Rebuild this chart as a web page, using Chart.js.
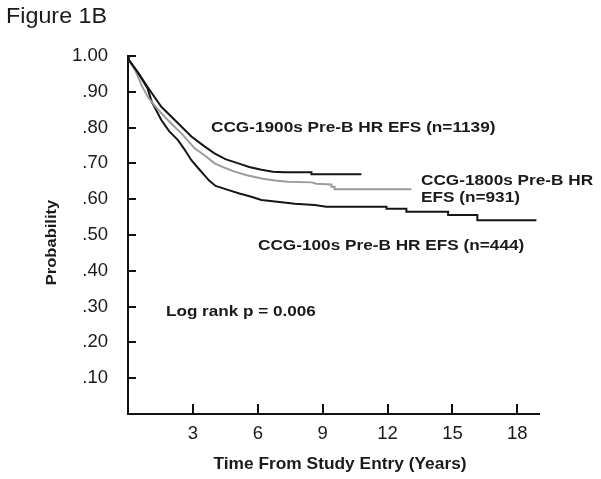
<!DOCTYPE html>
<html>
<head>
<meta charset="utf-8">
<script src="https://cdn.jsdelivr.net/npm/chart.js@4.4.1/dist/chart.umd.min.js"></script>
<style>
html,body{margin:0;padding:0;background:#fff;}
</style>
</head>
<body>
<canvas id="c" width="601" height="479"></canvas>
<script>
// ---- data ----
const seriesNames = ['CCG-1900s Pre-B HR EFS (n=1139)', 'CCG-1800s Pre-B HR EFS (n=931)', 'CCG-100s Pre-B HR EFS (n=444)'];
const years1900 = [0, 0.03, 0.5, 1.0, 1.54, 2.16, 2.93, 3.55, 4.0, 4.5, 5.1, 5.6, 6.17, 6.7, 7.24, 8.48, 8.48, 10.79];
const efs1900   = [1.0, 0.99, 0.95, 0.905, 0.858, 0.821, 0.775, 0.747, 0.728, 0.712, 0.70, 0.69, 0.682, 0.677, 0.675, 0.675, 0.670, 0.670];
const years1800 = [0, 0.03, 0.35, 0.65, 0.95, 1.31, 1.70, 2.1, 2.47, 3.08, 3.55, 4.0, 4.5, 4.93, 5.5, 6.17, 6.8, 7.4, 8.5, 8.7, 9.4, 9.4, 9.55, 9.55, 13.1];
const efs1800   = [1.0, 0.99, 0.958, 0.915, 0.883, 0.856, 0.830, 0.805, 0.784, 0.742, 0.722, 0.700, 0.687, 0.677, 0.667, 0.658, 0.652, 0.649, 0.647, 0.643, 0.641, 0.635, 0.635, 0.628, 0.628];
const years100  = [0, 0.03, 0.5, 0.9, 1.1, 1.54, 1.9, 2.31, 2.6, 2.93, 3.3, 3.55, 3.75, 4.05, 4.62, 5.15, 5.7, 6.17, 7.0, 7.71, 8.63, 8.86, 9.17, 11.95, 11.95, 12.87, 12.87, 14.8, 14.8, 16.15, 16.15, 18.88];
const efs100    = [1.0, 0.99, 0.95, 0.91, 0.872, 0.821, 0.79, 0.765, 0.74, 0.709, 0.683, 0.666, 0.652, 0.637, 0.626, 0.616, 0.607, 0.598, 0.592, 0.587, 0.584, 0.582, 0.579, 0.579, 0.573, 0.573, 0.565, 0.565, 0.556, 0.556, 0.541, 0.541];
const xTickValues = [0, 3, 6, 9, 12, 15, 18];
const xTickLabels = ['', '3', '6', '9', '12', '15', '18'];
const yTickValues = [0, 0.1, 0.2, 0.3, 0.4, 0.5, 0.6, 0.7, 0.8, 0.9, 1.0];
const yTickLabels = ['', '.10', '.20', '.30', '.40', '.50', '.60', '.70', '.80', '.90', '1.00'];

function pts(xs, ys){ return xs.map((x,i)=>({x:x, y:ys[i]})); }

// inward tick-mark glyphs (drawn by the library as point styles at the tick values)
function glyph(w, h, rx, ry, rw, rh){
  const c = document.createElement('canvas'); c.width = w; c.height = h;
  const g = c.getContext('2d'); g.fillStyle = '#111'; g.fillRect(rx, ry, rw, rh);
  return c;
}
const yTickGlyph = glyph(16, 2, 8, 0, 8, 2);   // extends right from the y axis
const xTickGlyph = glyph(2, 20, 0, 0, 2, 10);  // extends up from the x axis

// ---- text placement (canvas px) ----
const texts = [
  {t:'Figure 1B', x:6, y:22.5, font:'22px "Liberation Sans"', sx:1.06},
  {t:'CCG-1900s Pre-B HR EFS (n=1139)', x:211, y:132, font:'bold 15.5px "Liberation Sans"', sx:1.11},
  {t:'CCG-1800s Pre-B HR', x:421, y:184.5, font:'bold 15.5px "Liberation Sans"', sx:1.11},
  {t:'EFS (n=931)', x:421, y:201.5, font:'bold 15.5px "Liberation Sans"', sx:1.11},
  {t:'CCG-100s Pre-B HR EFS (n=444)', x:258, y:250, font:'bold 15.5px "Liberation Sans"', sx:1.11},
  {t:'Log rank p = 0.006', x:166, y:315.5, font:'bold 15px "Liberation Sans"', sx:1.14}
];

const decor = {
  id:'decor',
  afterDraw(chart){
    const ctx = chart.ctx, xs = chart.scales.x, ys = chart.scales.y, a = chart.chartArea;
    ctx.save();
    ctx.fillStyle = '#111';
    yTickValues.forEach(v=>{
      if (v <= 0) return;
      const py = Math.round(ys.getPixelForValue(v));
      ctx.fillRect(a.left, py-1, 8, 2);
    });
    xTickValues.forEach(v=>{
      if (v <= 0) return;
      const px = Math.round(xs.getPixelForValue(v));
      ctx.fillRect(px-1, a.bottom-10, 2, 10);
    });
    ctx.fillStyle = '#1a1a1a';
    ctx.textBaseline = 'alphabetic';
    ctx.textAlign = 'left';
    texts.forEach(o=>{
      ctx.save(); ctx.font = o.font; ctx.translate(o.x, o.y); ctx.scale(o.sx, 1); ctx.fillText(o.t, 0, 0); ctx.restore();
    });
    ctx.save();
    ctx.font = 'bold 17px "Liberation Sans"';
    ctx.textAlign = 'center';
    ctx.translate(340, 469); ctx.scale(1.02, 1);
    ctx.fillText('Time From Study Entry (Years)', 0, 0);
    ctx.restore();
    ctx.save();
    ctx.font = 'bold 15px "Liberation Sans"';
    ctx.textAlign = 'center';
    ctx.translate(56, 242.5); ctx.rotate(-Math.PI/2); ctx.scale(1.1,1);
    ctx.fillText('Probability', 0, 0);
    ctx.restore();
    ctx.restore();
  }
};

new Chart(document.getElementById('c'), {
  type:'line',
  data:{
    datasets:[
      {label:seriesNames[0], data:pts(years1900, efs1900), borderColor:'#151515', borderWidth:2, pointRadius:0, tension:0},
      {label:seriesNames[1], data:pts(years1800, efs1800), borderColor:'#9c9c9c', borderWidth:2, pointRadius:0, tension:0},
      {label:seriesNames[2], data:pts(years100, efs100), borderColor:'#151515', borderWidth:2, pointRadius:0, tension:0},
      {label:'yticks', data:yTickValues.filter(v=>v>0).map(v=>({x:0, y:v})), showLine:false, pointStyle:yTickGlyph, pointRadius:1, borderWidth:0, clip:false},
      {label:'xticks', data:xTickValues.filter(v=>v>0).map(v=>({x:v, y:0})), showLine:false, pointStyle:xTickGlyph, pointRadius:1, borderWidth:0, clip:false}
    ]
  },
  options:{
    responsive:false,
    animation:false,
    layout:{padding:{top:56, right:62}},
    plugins:{legend:{display:false}, tooltip:{enabled:false}},
    scales:{
      x:{
        type:'linear', min:0, max:19,
        afterBuildTicks(s){ s.ticks = xTickValues.map(v=>({value:v})); },
        afterFit(s){ s.height = 65; },
        ticks:{callback:(v,i)=>xTickLabels[i], padding:19, color:'#1a1a1a', font:{family:'Liberation Sans', size:18.5}, maxRotation:0},
        grid:{drawOnChartArea:false, tickLength:-10, color:'#111', lineWidth:2},
        border:{color:'#111', width:2}
      },
      y:{
        type:'linear', min:0, max:1,
        afterBuildTicks(s){ s.ticks = yTickValues.map(v=>({value:v})); },
        afterFit(s){ s.width = 128; },
        ticks:{callback:(v,i)=>yTickLabels[i], padding:28, color:'#1a1a1a', font:{family:'Liberation Sans', size:18.5}},
        grid:{drawOnChartArea:false, tickLength:-8, color:'#111', lineWidth:2},
        border:{color:'#111', width:2}
      }
    }
  },
  plugins:[decor]
});
</script>
</body>
</html>
